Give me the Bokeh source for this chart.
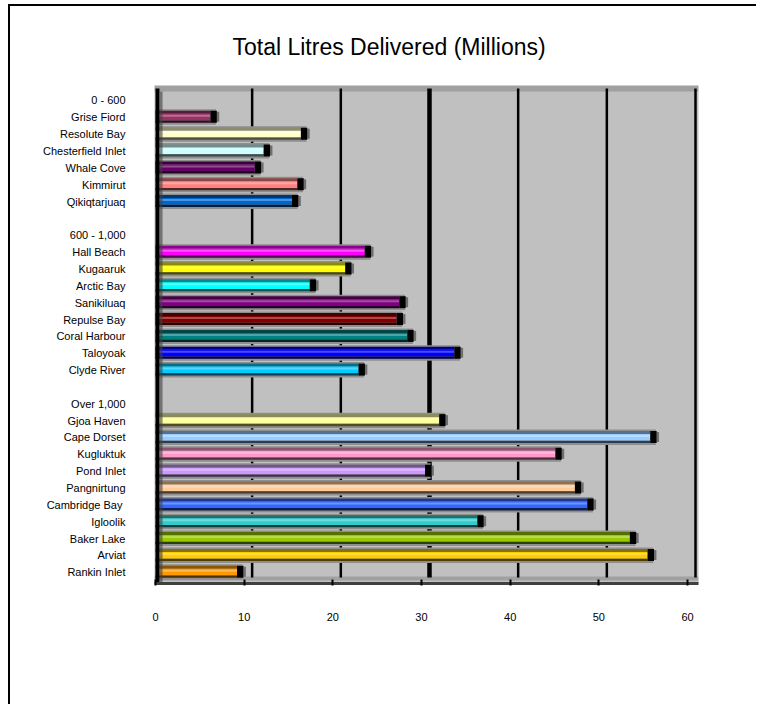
from bokeh.plotting import figure
from bokeh.models import Range1d, FixedTicker
from bokeh.embed import file_html
from bokeh.resources import INLINE

# ---------------- data ----------------
TITLE = "Total Litres Delivered (Millions)"
group_labels = ["0 - 600", "600 - 1,000", "Over 1,000"]

towns_small = ["Grise Fiord", "Resolute Bay", "Chesterfield Inlet", "Whale Cove",
               "Kimmirut", "Qikiqtarjuaq"]
litres_small = [6.2, 16.4, 12.2, 11.2, 16.0, 15.4]
colors_small = ["#993366", "#FFFFCC", "#CCFFFF", "#660066", "#FF8080", "#0066CC"]

towns_mid = ["Hall Beach", "Kugaaruk", "Arctic Bay", "Sanikiluaq", "Repulse Bay",
             "Coral Harbour", "Taloyoak", "Clyde River"]
litres_mid = [23.6, 21.4, 17.4, 27.5, 27.2, 28.4, 33.7, 22.9]
colors_mid = ["#FF00FF", "#FFFF00", "#00FFFF", "#800080", "#800000", "#008080",
              "#0000FF", "#00CCFF"]

towns_large = ["Gjoa Haven", "Cape Dorset", "Kugluktuk", "Pond Inlet", "Pangnirtung",
               "Cambridge  Bay", "Igloolik", "Baker Lake", "Arviat", "Rankin Inlet"]
litres_large = [32.0, 55.8, 45.1, 30.4, 47.3, 48.7, 36.3, 53.5, 55.5, 9.2]
colors_large = ["#FFFF99", "#99CCFF", "#FF99CC", "#CC99FF", "#FFCC99", "#3366FF",
                "#33CCCC", "#99CC00", "#FFCC00", "#FF9900"]

x_tick_values = [0, 10, 20, 30, 40, 50, 60]
grid_values = [10, 20, 30, 40, 50, 60]

# ---------------- style constants ----------------
FONT = "Liberation Sans"
PX_PER_UNIT = 8.867          # horizontal pixels per million litres
ROW_PX = 16.85               # vertical pixels per category row
DEPTH = 8 / PX_PER_UNIT      # 3-D depth offset in data units


def mix(c, other, f):
    c = c.lstrip("#")
    o = other.lstrip("#")
    vals = [int(c[i:i + 2], 16) * (1 - f) + int(o[i:i + 2], 16) * f for i in (0, 2, 4)]
    return "#%02x%02x%02x" % tuple(int(round(v)) for v in vals)


# ---------------- build rows ----------------
groups = [
    (group_labels[0], towns_small, litres_small, colors_small),
    (group_labels[1], towns_mid, litres_mid, colors_mid),
    (group_labels[2], towns_large, litres_large, colors_large),
]
row_labels = []
bar_rows, bar_vals, bar_cols = [], [], []
for gi, (g, towns, vals, cols) in enumerate(groups):
    if gi > 0:
        row_labels.append("")
    row_labels.append(g)
    for t, v, c in zip(towns, vals, cols):
        bar_rows.append(len(row_labels))
        row_labels.append(t)
        bar_vals.append(v)
        bar_cols.append(c)

n_rows = len(row_labels)

# ---------------- figure ----------------
x_start = -0.11
x_end = 61.24
y_top = -0.89
y_bottom = 28.665

p = figure(
    width=746, height=698,
    frame_width=544, frame_height=498,
    min_border_left=144, min_border_right=58,
    min_border_top=79, min_border_bottom=121,
    x_range=Range1d(x_start, x_end),
    y_range=Range1d(y_bottom, y_top),
    output_backend="svg", toolbar_location=None,
    background_fill_color="#C0C0C0", border_fill_color="white",
)
p.outline_line_color = None
p.xgrid.visible = False
p.ygrid.visible = False
p.styles = {"border-left": "2px solid black", "border-top": "2px solid black",
            "margin-top": "4px", "margin-left": "8px"}

p.title.text = TITLE
p.title.text_font = FONT
p.title.text_font_size = "23px"
p.title.text_font_style = "normal"
p.title.text_color = "black"
p.title.text_line_height = 0.9
p.title.align = "left"
p.title.offset = 78
p.title.standoff = 51


def band(top_px, bot_px):
    ys = [r + (top_px + bot_px) / 2 / ROW_PX for r in bar_rows]
    h = (bot_px - top_px) / ROW_PX
    return ys, h


# top strip of back wall
p.quad(left=[x_start], right=[x_end], top=[y_top], bottom=[y_top + 6 / ROW_PX],
       fill_color="#A0A0A0", line_color=None)
# floor strip
p.quad(left=[x_start], right=[x_end], top=[y_bottom - 7 / ROW_PX], bottom=[y_bottom - 3 / ROW_PX],
       fill_color="#A0A0A0", line_color=None)

# gridlines on back wall
grid_widths = [2.5, 2.5, 4.5, 2.5, 2.5, 2.5]
for gv, w in zip(grid_values, grid_widths):
    p.segment(x0=[gv + DEPTH], x1=[gv + DEPTH], y0=[y_top + 3 / ROW_PX],
              y1=[y_bottom - 6 / ROW_PX], line_color="black", line_width=w)

# bars
ys, h = band(-8, 7.5)
p.hbar(y=ys, height=h, left=0, right=[v + 0.7 * DEPTH for v in bar_vals],
       fill_color="#8E8E8E", line_color=None)

ys, h = band(-6.5, -3.5)
p.hbar(y=ys, height=h, left=0, right=bar_vals,
       fill_color=[mix(c, "#000000", 0.45) for c in bar_cols], line_color=None)

ys, h = band(-3.5, 3.2)
p.hbar(y=ys, height=h, left=0, right=bar_vals, fill_color=bar_cols, line_color=None)

ys, h = band(-2.5, -0.5)
p.hbar(y=ys, height=h, left=0, right=bar_vals,
       fill_color=[mix(c, "#FFFFFF", 0.3) for c in bar_cols], line_color=None)

ys, h = band(3.2, 5.5)
p.hbar(y=ys, height=h, left=0, right=bar_vals,
       fill_color=[mix(c, "#000000", 0.7) for c in bar_cols], line_color=None)

ys, h = band(-5.5, 4.5)
p.hbar(y=ys, height=h, left=[v + 0.8 * DEPTH for v in bar_vals],
       right=[v + 1.1 * DEPTH for v in bar_vals], fill_color="#6E6E6E", line_color=None)

ys, h = band(-6.5, 5.5)
p.hbar(y=ys, height=h, left=bar_vals, right=[v + 0.8 * DEPTH for v in bar_vals],
       fill_color="black", line_color=None)

# left wall
p.quad(left=[0], right=[0.45], top=[y_top + 3 / ROW_PX], bottom=[y_bottom],
       fill_color="black", line_color=None)
p.quad(left=[0.45], right=[0.8], top=[y_top + 6 / ROW_PX], bottom=[y_bottom],
       fill_color="#404040", line_color=None, fill_alpha=0.6)

# axes
xa = p.xaxis[0]
xa.ticker = FixedTicker(ticks=x_tick_values)
xa.minor_tick_line_color = None
xa.axis_line_color = "#404040"
xa.axis_line_width = 3
xa.major_tick_line_color = "black"
xa.major_tick_line_width = 2
xa.major_tick_in = 4
xa.major_tick_out = 2
xa.major_label_standoff = 27
xa.major_label_text_font = FONT
xa.major_label_text_font_size = "11px"
xa.major_label_text_color = "black"

ya = p.yaxis[0]
ya.ticker = FixedTicker(ticks=list(range(n_rows)))
ya.major_label_overrides = {i: lab for i, lab in enumerate(row_labels)}
ya.minor_tick_line_color = None
ya.major_tick_line_color = None
ya.axis_line_color = None
ya.major_tick_in = 0
ya.major_tick_out = 0
ya.major_label_standoff = 29
ya.major_label_text_font = FONT
ya.major_label_text_font_size = "11px"
ya.major_label_text_color = "black"

open("out.html", "w").write(file_html(p, INLINE))
